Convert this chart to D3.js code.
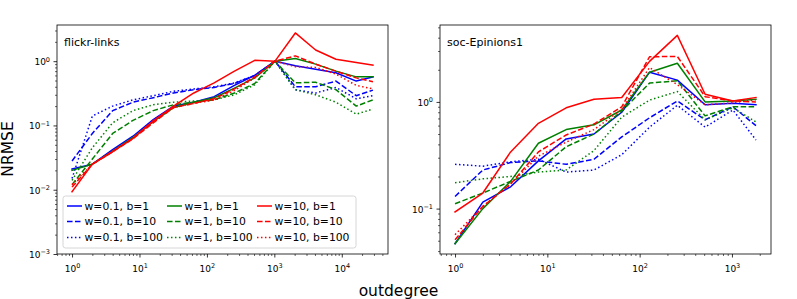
<!DOCTYPE html>
<html>
<head>
<meta charset="utf-8">
<script src="https://cdn.jsdelivr.net/npm/d3@7"></script>
<style>
    body { margin: 0; background: #fff; }
    text { font-family: "DejaVu Sans", sans-serif; fill: #000; }
</style>
</head>
<body>
<svg id="chart" width="797" height="299"></svg>
<script>
// outdegree bins (x) for each graph
var flickrDegree = [1, 2, 4, 8, 16, 32, 64, 128, 256, 512, 1024, 2048, 4096, 8192, 16384, 29000];
var epinionsDegree = [1, 2, 4, 8, 16, 32, 64, 128, 256, 512, 1024, 1820];

var weights = ["0.1", "1", "10"];
var buffers = ["1", "10", "100"];

// NRMSE, order: w=0.1 (b=1,10,100), w=1 (b=1,10,100), w=10 (b=1,10,100)
var flickrNrmse = [
    [0.021, 0.025, 0.042, 0.068, 0.123, 0.20, 0.23, 0.28, 0.42, 0.60, 1.0, 0.85, 0.75, 0.66, 0.49, 0.57],
    [0.028, 0.075, 0.17, 0.23, 0.27, 0.32, 0.36, 0.39, 0.45, 0.60, 1.0, 0.40, 0.40, 0.49, 0.29, 0.355],
    [0.015, 0.14, 0.20, 0.25, 0.29, 0.34, 0.37, 0.40, 0.46, 0.60, 1.0, 0.36, 0.32, 0.39, 0.26, 0.29],
    [0.020, 0.025, 0.040, 0.065, 0.115, 0.19, 0.23, 0.27, 0.38, 0.55, 1.0, 1.10, 0.90, 0.70, 0.57, 0.57],
    [0.012, 0.030, 0.075, 0.12, 0.17, 0.21, 0.23, 0.25, 0.32, 0.45, 1.0, 0.46, 0.47, 0.36, 0.20, 0.25],
    [0.014, 0.045, 0.11, 0.17, 0.21, 0.23, 0.24, 0.25, 0.30, 0.43, 1.0, 0.36, 0.30, 0.23, 0.15, 0.18],
    [0.0093, 0.025, 0.039, 0.063, 0.117, 0.20, 0.32, 0.46, 0.70, 1.03, 1.0, 2.75, 1.49, 1.07, 0.95, 0.87],
    [0.011, 0.025, 0.039, 0.062, 0.11, 0.19, 0.22, 0.26, 0.37, 0.57, 1.0, 1.21, 0.90, 0.70, 0.55, 0.48],
    [0.012, 0.025, 0.040, 0.063, 0.12, 0.19, 0.22, 0.25, 0.35, 0.55, 1.0, 0.82, 0.80, 0.63, 0.42, 0.37]
];
var epinionsNrmse = [
    [0.047, 0.115, 0.16, 0.28, 0.45, 0.50, 0.80, 1.9, 1.6, 0.94, 0.97, 0.94],
    [0.13, 0.23, 0.27, 0.28, 0.26, 0.29, 0.47, 0.71, 1.02, 0.68, 0.90, 0.60],
    [0.26, 0.25, 0.275, 0.29, 0.22, 0.23, 0.32, 0.58, 0.93, 0.58, 0.84, 0.44],
    [0.047, 0.10, 0.18, 0.41, 0.55, 0.61, 0.84, 1.9, 2.3, 1.0, 1.02, 1.06],
    [0.111, 0.14, 0.18, 0.23, 0.38, 0.50, 0.82, 1.5, 1.58, 0.74, 0.90, 0.90],
    [0.175, 0.19, 0.20, 0.22, 0.23, 0.35, 0.72, 1.04, 1.25, 0.68, 0.88, 0.65],
    [0.093, 0.14, 0.34, 0.63, 0.88, 1.06, 1.1, 2.4, 4.2, 1.18, 1.02, 1.1],
    [0.051, 0.105, 0.17, 0.34, 0.49, 0.62, 0.90, 2.65, 2.67, 1.12, 1.02, 1.0],
    [0.057, 0.105, 0.17, 0.31, 0.42, 0.55, 0.85, 2.1, 1.45, 0.94, 0.98, 1.05]
];

var weightColors = ["#0000ff", "#008000", "#ff0000"];
var bufferDashes = [null, "5.55,2.4", "1.5,2.475"];

var svg = d3.select("#chart");

function padLog(ext) {
    var a = Math.log10(ext[0]), b = Math.log10(ext[1]);
    var m = 0.05 * (b - a);
    return [Math.pow(10, a - m), Math.pow(10, b + m)];
}

function logTicks(dom) {
    var lo = Math.floor(Math.log10(dom[0])), hi = Math.ceil(Math.log10(dom[1]));
    var major = [], minor = [];
    for (var k = lo; k <= hi; k++) {
        var p = Math.pow(10, k);
        if (p >= dom[0] * 0.9999 && p <= dom[1] * 1.0001) major.push(p);
        for (var m = 2; m < 10; m++) {
            var v = m * p;
            if (v >= dom[0] && v <= dom[1]) minor.push(v);
        }
    }
    return { major: major, minor: minor };
}

function powerLabel(sel) {
    sel.each(function(d) {
        var e = Math.round(Math.log10(d));
        var t = d3.select(this).text(null);
        t.append("tspan").text("10");
        t.append("tspan")
            .attr("dy", -3.6)
            .attr("font-size", 6.5)
            .text(e < 0 ? "\u2212" + (-e) : e);
    });
}

function drawPanel(box, degrees, nrmse, title, yFloor, id) {
    var xDom = padLog(d3.extent(degrees));
    var yDom = padLog(d3.extent(d3.merge(nrmse)));
    if (yFloor) yDom[0] = yFloor;

    var x = d3.scaleLog().domain(xDom).range([box.left, box.right]);
    var y = d3.scaleLog().domain(yDom).range([box.bottom, box.top]);

    var g = svg.append("g");

    g.append("clipPath").attr("id", "clip" + id)
        .append("rect")
        .attr("x", box.left).attr("y", box.top)
        .attr("width", box.right - box.left)
        .attr("height", box.bottom - box.top);

    var line = d3.line()
        .x(function(d) { return x(d[0]); })
        .y(function(d) { return y(d[1]); });

    var lines = g.append("g").attr("clip-path", "url(#clip" + id + ")");
    nrmse.forEach(function(vals, i) {
        var wi = Math.floor(i / 3), bi = i % 3;
        lines.append("path")
            .datum(degrees.map(function(dg, j) { return [dg, vals[j]]; }))
            .attr("d", line)
            .attr("fill", "none")
            .attr("stroke", weightColors[wi])
            .attr("stroke-width", 1.5)
            .attr("stroke-linejoin", "round")
            .attr("stroke-linecap", bi === 0 ? "square" : "butt")
            .attr("stroke-dasharray", bufferDashes[bi]);
    });

    var xt = logTicks(xDom), yt = logTicks(yDom);

    var xMinor = g.append("g").attr("transform", "translate(0," + box.bottom + ")")
        .call(d3.axisBottom(x).tickValues(xt.minor).tickSize(2).tickFormat(""));
    var xMajor = g.append("g").attr("transform", "translate(0," + box.bottom + ")")
        .call(d3.axisBottom(x).tickValues(xt.major).tickSize(3.5).tickPadding(3.5).tickFormat(""));
    var yMinor = g.append("g").attr("transform", "translate(" + box.left + ",0)")
        .call(d3.axisLeft(y).tickValues(yt.minor).tickSize(2).tickFormat(""));
    var yMajor = g.append("g").attr("transform", "translate(" + box.left + ",0)")
        .call(d3.axisLeft(y).tickValues(yt.major).tickSize(3.5).tickPadding(3.5).tickFormat(""));

    [xMinor, xMajor, yMinor, yMajor].forEach(function(a) {
        a.select(".domain").remove();
        a.selectAll("line").attr("stroke", "#000").attr("stroke-width", 0.8);
    });
    [xMinor, yMinor].forEach(function(a) {
        a.selectAll("line").attr("stroke-width", 0.6);
    });

    xMajor.selectAll("text")
        .attr("y", 17.5).attr("dy", null)
        .attr("font-family", "DejaVu Sans").attr("font-size", 9)
        .call(powerLabel);
    yMajor.selectAll("text")
        .attr("dy", "0.38em")
        .attr("font-family", "DejaVu Sans").attr("font-size", 9)
        .call(powerLabel);

    g.append("rect")
        .attr("x", box.left).attr("y", box.top)
        .attr("width", box.right - box.left)
        .attr("height", box.bottom - box.top)
        .attr("fill", "none")
        .attr("stroke", "#000")
        .attr("stroke-width", 0.8);

    g.append("text")
        .attr("x", box.left + 7)
        .attr("y", box.top + 21)
        .attr("font-size", 11)
        .text(title);

    return g;
}

drawPanel({ left: 57, right: 388, top: 25, bottom: 254 }, flickrDegree, flickrNrmse, "flickr-links", 1e-3, 0);
drawPanel({ left: 440, right: 771, top: 25, bottom: 254 }, epinionsDegree, epinionsNrmse, "soc-Epinions1", null, 1);

// legend inside the left panel
var legend = svg.append("g");
legend.append("rect")
    .attr("x", 63).attr("y", 196)
    .attr("width", 293).attr("height", 52)
    .attr("rx", 2.5)
    .attr("fill", "#fff")
    .attr("fill-opacity", 0.8)
    .attr("stroke", "#cccccc")
    .attr("stroke-width", 0.8);

var colX = [67, 167, 257], rowY = [206, 221.5, 237.5];
weights.forEach(function(w, wi) {
    buffers.forEach(function(b, bi) {
        legend.append("line")
            .attr("x1", colX[wi]).attr("x2", colX[wi] + 15)
            .attr("y1", rowY[bi]).attr("y2", rowY[bi])
            .attr("stroke", weightColors[wi])
            .attr("stroke-width", 1.5)
            .attr("stroke-dasharray", bufferDashes[bi]);
        legend.append("text")
            .attr("x", colX[wi] + 17.5)
            .attr("y", rowY[bi])
            .attr("dy", "0.36em")
            .attr("font-size", 10.8)
            .text("w=" + w + ", b=" + b);
    });
});

svg.append("text")
    .attr("transform", "translate(13,149) rotate(-90)")
    .attr("text-anchor", "middle")
    .attr("font-size", 15.5)
    .text("NRMSE");

svg.append("text")
    .attr("x", 398.5)
    .attr("y", 295.5)
    .attr("text-anchor", "middle")
    .attr("font-size", 15.5)
    .text("outdegree");
</script>
</body>
</html>
